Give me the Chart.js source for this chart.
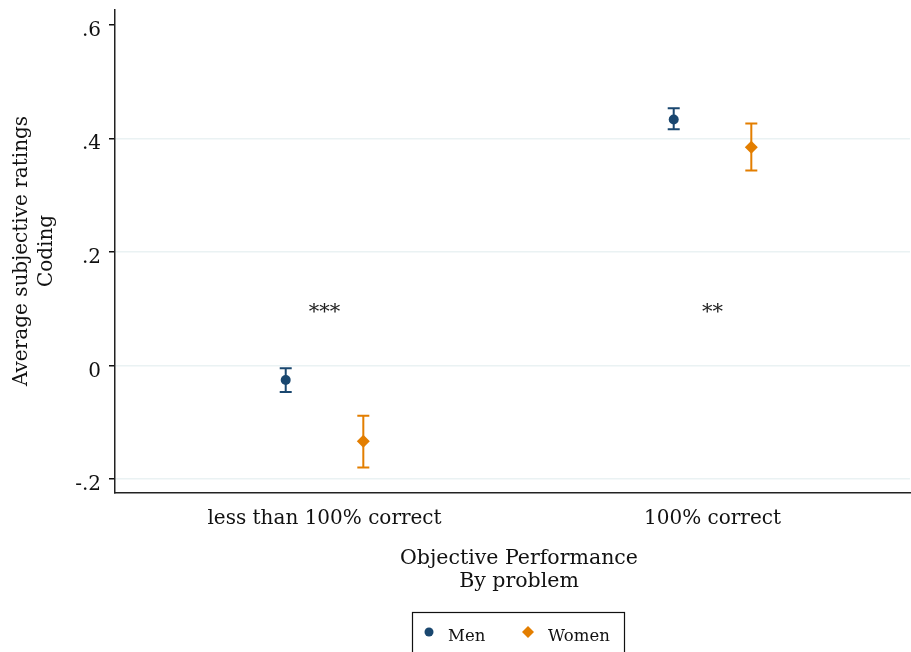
<!DOCTYPE html>
<html>
<head>
<meta charset="utf-8">
<script src="https://cdn.jsdelivr.net/npm/chart.js@4.4.0/dist/chart.umd.min.js"></script>
<style>
  html, body { margin: 0; padding: 0; background: #fff; }
  #wrap { width: 911px; height: 652px; }
</style>
</head>
<body>
<div id="wrap"><canvas id="grafico" width="911" height="652"></canvas></div>
<script>
// Dados
const categorias = ["less than 100% correct", "100% correct"];
const posCategorias = [1, 2];
const deslocamento = 0.1;

const menMedia = [-0.026, 0.433];
const menInf = [-0.047, 0.416];
const menSup = [-0.005, 0.453];

const womenMedia = [-0.134, 0.384];
const womenInf = [-0.180, 0.343];
const womenSup = [-0.089, 0.426];

const yTicks = [-0.2, 0, 0.2, 0.4, 0.6];
const yTickLabels = ["-.2", "0", ".2", ".4", ".6"];

const notas = ["***", "**"];
const notasY = [0.1, 0.1];

const corMen = "#1a476f";
const corWomen = "#e37e00";
const fonte = "'DejaVu Serif', 'Liberation Serif', serif";

function pontos(medias, lado) {
    return medias.map((v, i) => ({ x: posCategorias[i] + lado * deslocamento, y: v }));
}

function semPadding(s) {
    s.paddingLeft = 0; s.paddingRight = 0; s.paddingTop = 0; s.paddingBottom = 0;
}

// barras de erro desenhadas pelas escalas
const errorBars = {
    id: 'errorBars',
    afterDatasetsDraw(chart) {
        const ctx = chart.ctx;
        const xs = chart.scales.x, ys = chart.scales.y;
        const series = [
            { inf: menInf, sup: menSup, lado: -1, cor: corMen },
            { inf: womenInf, sup: womenSup, lado: 1, cor: corWomen }
        ];
        ctx.save();
        series.forEach(s => {
            ctx.strokeStyle = s.cor;
            ctx.lineWidth = 2;
            s.inf.forEach((lo, i) => {
                const x = xs.getPixelForValue(posCategorias[i] + s.lado * deslocamento);
                const y1 = ys.getPixelForValue(lo);
                const y2 = ys.getPixelForValue(s.sup[i]);
                ctx.beginPath();
                ctx.moveTo(x, y1); ctx.lineTo(x, y2);
                ctx.moveTo(x - 6, y1); ctx.lineTo(x + 6, y1);
                ctx.moveTo(x - 6, y2); ctx.lineTo(x + 6, y2);
                ctx.stroke();
            });
        });
        // asteriscos
        ctx.fillStyle = "#222";
        ctx.font = "21px " + fonte;
        ctx.textAlign = "center";
        ctx.textBaseline = "middle";
        notas.forEach((t, i) => {
            ctx.fillText(t, xs.getPixelForValue(posCategorias[i]), ys.getPixelForValue(notasY[i]) + 4);
        });
        ctx.restore();
    }
};

// títulos dos eixos e legenda com moldura
const extras = {
    id: 'extras',
    afterDraw(chart) {
        const ctx = chart.ctx;
        ctx.save();
        ctx.fillStyle = "#111";
        ctx.font = "20px " + fonte;
        ctx.textAlign = "center";
        ctx.textBaseline = "middle";
        // eixo y
        ctx.save();
        ctx.translate(22, 251);
        ctx.rotate(-Math.PI / 2);
        ctx.fillText("Average subjective ratings", 0, 0);
        ctx.fillText("Coding", 0, 25);
        ctx.restore();
        // eixo x
        ctx.font = "20.5px " + fonte;
        ctx.fillText("Objective Performance", 519, 559);
        ctx.fillText("By problem", 519, 582);
        // legenda
        ctx.strokeStyle = "#111";
        ctx.lineWidth = 1.2;
        ctx.strokeRect(412.5, 612.5, 212, 45);
        ctx.fillStyle = corMen;
        ctx.beginPath();
        ctx.arc(429, 632, 4.5, 0, Math.PI * 2);
        ctx.fill();
        ctx.fillStyle = corWomen;
        ctx.beginPath();
        ctx.moveTo(528, 626); ctx.lineTo(534, 632); ctx.lineTo(528, 638); ctx.lineTo(522, 632);
        ctx.closePath();
        ctx.fill();
        ctx.fillStyle = "#111";
        ctx.font = "16.5px " + fonte;
        ctx.textAlign = "left";
        ctx.fillText("Men", 448, 637);
        ctx.fillText("Women", 548, 637);
        ctx.restore();
    }
};

new Chart(document.getElementById('grafico').getContext('2d'), {
    type: 'scatter',
    data: {
        datasets: [{
            label: 'Men',
            data: pontos(menMedia, -1),
            backgroundColor: corMen,
            borderColor: corMen,
            pointStyle: 'circle',
            pointRadius: 5,
            pointBorderWidth: 0
        }, {
            label: 'Women',
            data: pontos(womenMedia, 1),
            backgroundColor: corWomen,
            borderColor: corWomen,
            pointStyle: 'rectRot',
            pointRadius: 6.5,
            pointBorderWidth: 0
        }]
    },
    options: {
        responsive: false,
        animation: false,
        layout: { autoPadding: false, padding: { top: 10, right: 1, left: 0, bottom: 0 } },
        plugins: {
            legend: { display: false },
            tooltip: { enabled: false }
        },
        scales: {
            x: {
                type: 'linear',
                min: 0.46,
                max: 2.509,
                afterFit: s => { s.height = 159; semPadding(s); },
                afterBuildTicks: s => { s.ticks = posCategorias.map(v => ({ value: v })); },
                ticks: {
                    color: "#111",
                    font: { family: fonte, size: 20 },
                    padding: 14,
                    maxRotation: 0,
                    callback: v => categorias[posCategorias.indexOf(v)] || ''
                },
                grid: { display: false, drawTicks: false },
                border: { display: true, color: "#222", width: 1.5 }
            },
            y: {
                min: -0.225,
                max: 0.626,
                afterFit: s => { s.width = 115; semPadding(s); },
                afterBuildTicks: s => { s.ticks = yTicks.map(v => ({ value: v })); },
                ticks: {
                    color: "#111",
                    font: { family: fonte, size: 20 },
                    padding: 8,
                    labelOffset: 6,
                    callback: v => yTickLabels[yTicks.indexOf(v)]
                },
                grid: {
                    color: ctx => (ctx.tick && ctx.tick.value === 0.6) ? 'rgba(0,0,0,0)' : '#eaf2f3',
                    lineWidth: 1.5,
                    tickLength: 6,
                    tickColor: "#111",
                    tickWidth: 1.5
                },
                border: { display: true, color: "#222", width: 1.5 }
            }
        }
    },
    plugins: [errorBars, extras]
});
</script>
</body>
</html>
